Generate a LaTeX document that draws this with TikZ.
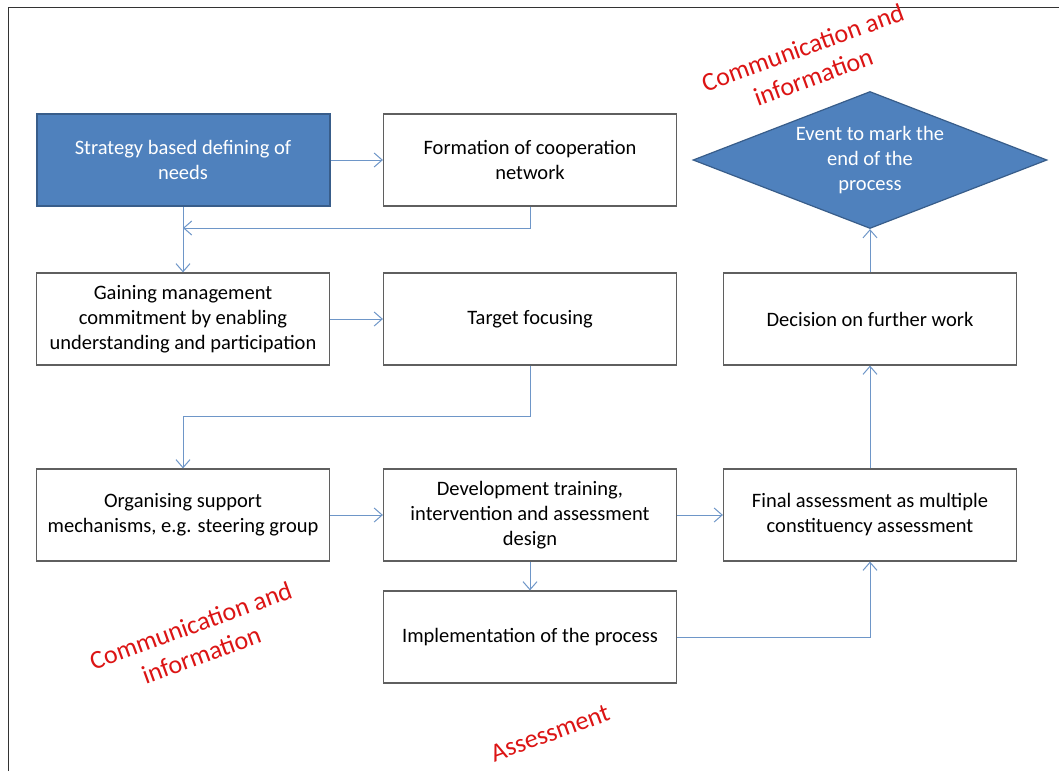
\documentclass[tikz,border=0pt]{standalone}
\usepackage{fontspec}
\setmainfont{Carlito}
\usetikzlibrary{arrows.meta,shapes.geometric}
\definecolor{boxblue}{RGB}{79,129,189}
\definecolor{boxblueedge}{RGB}{56,93,138}
\definecolor{linkblue}{RGB}{110,150,200}
\definecolor{boxedge}{RGB}{95,95,95}
\definecolor{redtext}{RGB}{220,20,20}
\begin{document}
\begin{tikzpicture}[x=1pt,y=-1pt,
  every node/.style={font=\fontsize{20.5}{25}\selectfont},
  stepbox/.style={draw=boxedge,line width=1.2pt,fill=white,minimum width=293pt,minimum height=92pt,align=center,inner sep=2pt},
  bluebox/.style={stepbox,draw=boxblueedge,line width=2pt,fill=boxblue,text=white},
  enddiamond/.style={diamond,draw=boxblueedge,line width=1.2pt,fill=boxblue,text=white,align=center,minimum width=354pt,minimum height=137pt,inner sep=0pt,aspect=2.58},
  conn/.style={draw=linkblue,line width=1pt,-{Straight Barb[length=8pt,width=14pt,line width=1pt]}},
  redlabel/.style={text=redtext,align=center,font=\fontsize{26}{31}\selectfont,rotate=20}
]
\useasboundingbox (0,0) rectangle (1059,771);
\fill[white] (0,0) rectangle (1059,771);
\draw[line width=1pt,draw=black!80] (8,771) -- (8,7) -- (1059,7);

\node[bluebox] (A) at (183,160) {Strategy based defining of\\needs};
\node[stepbox] (B) at (530,160) {Formation of cooperation\\network};
\node[stepbox] (C) at (183,319) {Gaining management\\commitment by enabling\\understanding and participation};
\node[stepbox] (D) at (530,319) {Target focusing};
\node[stepbox] (E) at (183,515) {Organising support\\mechanisms, e.g. steering group};
\node[stepbox] (F) at (530,515) {Development training,\\intervention and assessment\\design};
\node[stepbox] (G) at (870,515) {Final assessment as multiple\\constituency assessment};
\node[stepbox] (H) at (530,637) {Implementation of the process};
\node[stepbox] (I) at (870,319) {Decision on further work};
\node[enddiamond] (Z) at (870,160) {Event to mark the\\end of the\\process};

\coordinate (j1) at (183,228);
\coordinate (j2) at (530,416);

\draw[conn] (A.east) -- (B.west);
\draw[conn] (B.south) |- (j1);
\draw[conn] (A.south) -- (C.north);
\draw[conn] (C.east) -- (D.west);
\draw[conn] (D.south) -- (j2) -| (E.north);
\draw[conn] (E.east) -- (F.west);
\draw[conn] (F.east) -- (G.west);
\draw[conn] (F.south) -- (H.north);
\draw[conn] (H.east) -| (G.south);
\draw[conn] (G.north) -- (I.south);
\draw[conn] (I.north) -- (Z.south);

\node[redlabel] (R1) at (808,62) {Communication and\\information};
\node[redlabel] (R2) at (196,640) {Communication and\\information};
\node[redlabel] (R3) at (550,733) {Assessment};
\end{tikzpicture}
\end{document}
